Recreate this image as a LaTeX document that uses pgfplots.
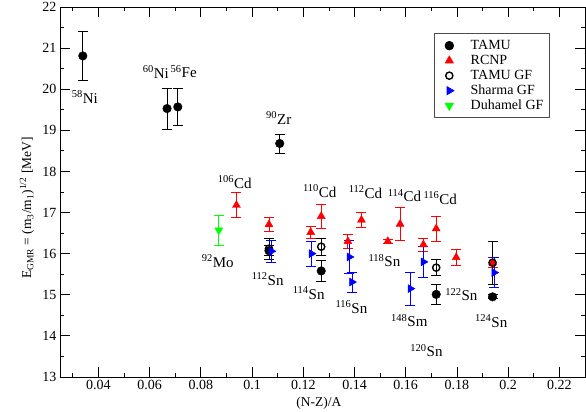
\documentclass[border=0pt]{standalone}
\usepackage{fontspec}
\setmainfont{Liberation Serif}
\usepackage{pgfplots}
\pgfplotsset{compat=1.18}
\tikzset{lab/.style={font=\fontsize{15bp}{15bp}\selectfont, inner sep=0pt}}
\newcommand\lf{\fontsize{14bp}{14bp}\selectfont}
\begin{document}
\begin{tikzpicture}
\useasboundingbox (-60bp,-35bp) rectangle (526bp,377bp);
\begin{axis}[
  scale only axis, width=525bp, height=370bp,
  xmin=0.025, xmax=0.23, ymin=13, ymax=22,
  axis line style={line width=0.8bp},
  xtick={0.04,0.06,0.08,0.1,0.12,0.14,0.16,0.18,0.2,0.22},
  minor xtick={0.03,0.05,0.07,0.09,0.11,0.13,0.15,0.17,0.19,0.21},
  ytick={13,14,15,16,17,18,19,20,21,22},
  minor ytick={13.5,14.5,15.5,16.5,17.5,18.5,19.5,20.5,21.5},
  tick align=inside, major tick length=10bp, minor tick length=4bp,
  every tick/.style={black, line width=0.8bp},
  tick label style={font=\fontsize{14bp}{14bp}\selectfont, /pgf/number format/assume math mode=true},
  x tick label style={/pgf/number format/fixed, /pgf/number format/precision=2},
  xlabel={(N-Z)/A},
  ylabel={E\textsubscript{GMR} = (m\textsubscript{3}/m\textsubscript{1})\textsuperscript{1/2} [MeV]},
  label style={font=\fontsize{13.5bp}{14bp}\selectfont},
  xlabel style={at={(axis description cs:0.493,-0.07)}, anchor=center},
  ylabel style={at={(axis description cs:-0.063,0.457)}, anchor=center, rotate=0},
  legend style={at={(rel axis cs:0.933,0.929)}, anchor=north east, draw=black!70, line width=0.8bp,
     legend cell align=left, row sep=0bp, column sep=0bp, inner xsep=5bp, inner ysep=4.5bp,
     nodes={inner sep=1bp, text height=10bp, text depth=3bp}},
  legend image code/.code={\path (-10bp,0bp) (20bp,0bp); \draw[#1] plot coordinates {(0bp,0bp)};},
  error bars/error bar style={line width=0.8bp},
]
% TAMU
\addplot[only marks, black, mark=*, mark size=4.3bp,
  error bars/.cd, y dir=both, y explicit, error mark options={rotate=90, mark size=5bp, line width=0.8bp}]
  coordinates {
  (0.0339,20.81) +- (0,0.59)
  (0.0668,19.53) +- (0,0.50)
  (0.0710,19.57) +- (0,0.44)
  (0.1108,18.68) +- (0,0.23)
  (0.1066,16.07) +- (0,0.12)
  (0.1270,15.58) +- (0,0.25)
  (0.1719,15.01) +- (0,0.25)
  (0.1939,14.95) +- (0,0.05)
  };
\addlegendentry{\lf TAMU}
% RCNP
\addplot[only marks, red, mark=triangle*, mark size=4.6bp,
  error bars/.cd, y dir=both, y explicit, error mark options={rotate=90, mark size=5bp, line width=0.8bp}]
  coordinates {
  (0.0939,17.18) +- (0,0.30)
  (0.1066,16.71) +- (0,0.18)
  (0.1229,16.52) +- (0,0.14)
  (0.1270,16.91) +- (0,0.30)
  (0.1374,16.30) +- (0,0.18)
  (0.1427,16.82) +- (0,0.19)
  (0.1530,16.30) +- (0,0.05)
  (0.1578,16.72) +- (0,0.40)
  (0.1669,16.22) +- (0,0.16)
  (0.1719,16.61) +- (0,0.30)
  (0.1797,15.91) +- (0,0.19)
  (0.1939,15.78) +- (0,0.12)
  };
\addlegendentry{\lf RCNP}
% TAMU GF
\addplot[only marks, black, mark=o, mark size=3.6bp, mark options={line width=1.4bp},
  error bars/.cd, y dir=both, y explicit, error mark options={rotate=90, mark size=5bp, line width=0.8bp}]
  coordinates {
  (0.1066,16.12) +- (0,0.25)
  (0.1270,16.17) +- (0,0.20)
  (0.1719,15.66) +- (0,0.19)
  (0.1939,15.78) +- (0,0.52)
  };
\addlegendentry{\lf TAMU GF}
% Sharma GF
\addplot[only marks, blue, mark=triangle*, mark size=4.6bp, mark options={rotate=-90},
  error bars/.cd, y dir=both, y explicit, error mark options={rotate=90, mark size=5bp, line width=0.8bp}]
  coordinates {
  (0.1075,16.06) +- (0,0.27)
  (0.1232,16.00) +- (0,0.31)
  (0.1380,15.92) +- (0,0.40)
  (0.1390,15.31) +- (0,0.24)
  (0.1618,15.15) +- (0,0.40)
  (0.1669,15.80) +- (0,0.38)
  (0.1945,15.54) +- (0,0.37)
  };
\addlegendentry{\lf Sharma GF}
% Duhamel GF
\addplot[only marks, color={rgb,255:red,0;green,255;blue,0}, mark=triangle*, mark size=4.6bp, mark options={rotate=180},
  error bars/.cd, y dir=both, y explicit, error mark options={rotate=90, mark size=5bp, line width=0.8bp}]
  coordinates {
  (0.0870,16.57) +- (0,0.36)
  };
\addlegendentry{\lf Duhamel GF}
% labels
\node[lab] at (axis cs:0.0347,19.81) {\textsuperscript{58}Ni};
\node[lab] at (axis cs:0.0624,20.42) {\textsuperscript{60}Ni};
\node[lab] at (axis cs:0.0733,20.42) {\textsuperscript{56}Fe};
\node[lab] at (axis cs:0.1104,19.30) {\textsuperscript{90}Zr};
\node[lab] at (axis cs:0.0932,17.74) {\textsuperscript{106}Cd};
\node[lab] at (axis cs:0.1264,17.52) {\textsuperscript{110}Cd};
\node[lab] at (axis cs:0.1443,17.50) {\textsuperscript{112}Cd};
\node[lab] at (axis cs:0.1595,17.42) {\textsuperscript{114}Cd};
\node[lab] at (axis cs:0.1735,17.35) {\textsuperscript{116}Cd};
\node[lab] at (axis cs:0.0866,15.82) {\textsuperscript{92}Mo};
\node[lab] at (axis cs:0.1061,15.38) {\textsuperscript{112}Sn};
\node[lab] at (axis cs:0.1221,15.04) {\textsuperscript{114}Sn};
\node[lab] at (axis cs:0.1388,14.70) {\textsuperscript{116}Sn};
\node[lab] at (axis cs:0.1517,15.84) {\textsuperscript{118}Sn};
\node[lab] at (axis cs:0.1614,14.38) {\textsuperscript{148}Sm};
\node[lab] at (axis cs:0.1681,13.65) {\textsuperscript{120}Sn};
\node[lab] at (axis cs:0.1817,15.01) {\textsuperscript{122}Sn};
\node[lab] at (axis cs:0.1934,14.36) {\textsuperscript{124}Sn};
\end{axis}
\end{tikzpicture}
\end{document}
